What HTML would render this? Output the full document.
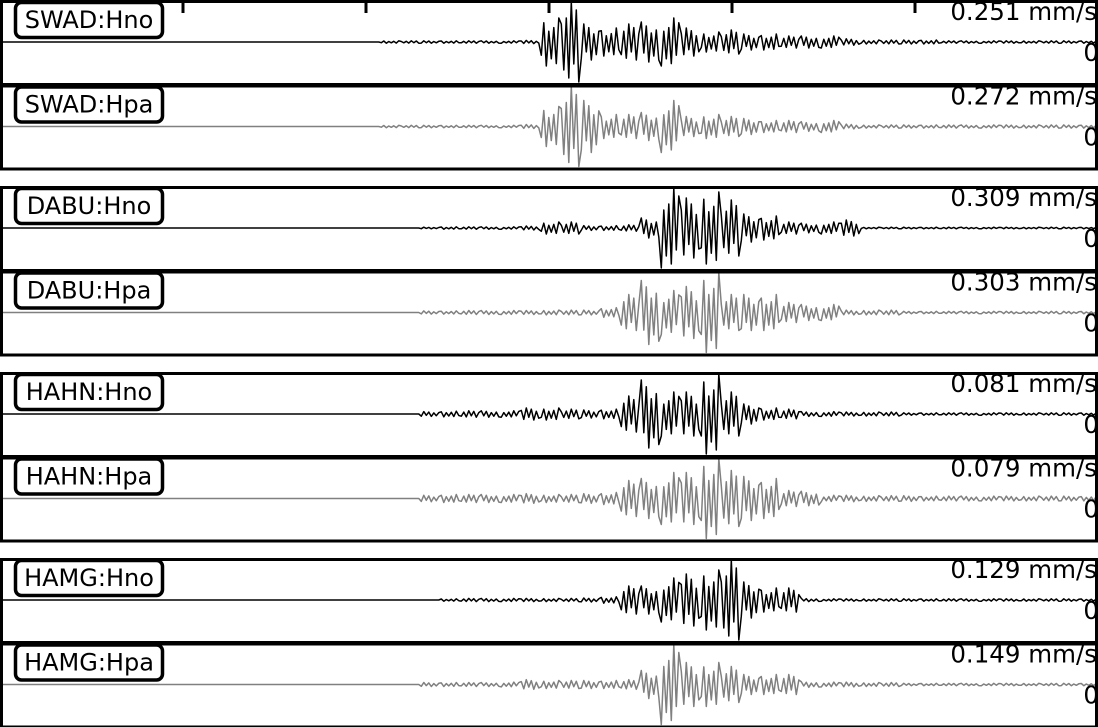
<!DOCTYPE html>
<html><head><meta charset="utf-8"><style>
html,body{margin:0;padding:0;background:#fff}
svg{display:block}
text{font-family:"DejaVu Sans","Liberation Sans",sans-serif}
</style></head><body>
<svg id="chart" width="1098" height="727" viewBox="0 0 1098 727"></svg>
<script>
const stations=["SWAD:Hno","SWAD:Hpa","DABU:Hno","DABU:Hpa","HAHN:Hno","HAHN:Hpa","HAMG:Hno","HAMG:Hpa"];
const peakLabels=["0.251 mm/s","0.272 mm/s","0.309 mm/s","0.303 mm/s","0.081 mm/s","0.079 mm/s","0.129 mm/s","0.149 mm/s"];
const traceColors=["#000","#808080","#000","#808080","#000","#808080","#000","#808080"];
const tickTimes=[1,2,3,4,5];
// envelope amplitude (fraction of peak) per 20px time bin, 55 bins
const env1=[0,0,0,0,0,0,0,0,0,0,0,0,0,0,0,0,0,0,0,0.03,0.03,0.03,0.03,0.03,0.03,0.03,0.04,0.6,1.0,0.45,0.35,0.45,0.5,0.6,0.35,0.25,0.3,0.2,0.2,0.15,0.15,0.15,0.08,0.05,0.05,0.05,0.05,0.03,0.03,0.03,0.03,0.03,0.03,0.03,0.03];
const env2=[0,0,0,0,0,0,0,0,0,0,0,0,0,0,0,0,0,0,0,0.03,0.03,0.03,0.03,0.03,0.03,0.03,0.05,0.5,1.0,0.65,0.3,0.3,0.35,0.65,0.25,0.3,0.25,0.2,0.15,0.15,0.12,0.15,0.06,0.04,0.04,0.04,0.04,0.04,0.04,0.04,0.04,0.04,0.04,0.04,0.04];
const env3=[0,0,0,0,0,0,0,0,0,0,0,0,0,0,0,0,0,0,0,0,0,0.02,0.03,0.03,0.03,0.03,0.05,0.15,0.15,0.06,0.06,0.08,0.25,1.0,0.75,0.9,0.7,0.35,0.3,0.15,0.12,0.15,0.2,0.02,0.02,0.02,0.02,0.02,0.02,0.02,0.02,0.02,0.02,0.02,0.02];
const env4=[0,0,0,0,0,0,0,0,0,0,0,0,0,0,0,0,0,0,0,0,0,0.04,0.04,0.05,0.05,0.05,0.05,0.06,0.06,0.06,0.12,0.45,0.8,0.55,0.65,1.0,0.45,0.45,0.45,0.25,0.2,0.2,0.06,0.06,0.06,0.03,0.03,0.03,0.03,0.03,0.03,0.03,0.03,0.03,0.03];
const env5=[0,0,0,0,0,0,0,0,0,0,0,0,0,0,0,0,0,0,0,0,0,0.06,0.07,0.08,0.08,0.08,0.15,0.15,0.12,0.1,0.12,0.45,0.85,0.55,0.55,1.0,0.55,0.25,0.15,0.12,0.06,0.06,0.05,0.05,0.05,0.03,0.03,0.03,0.03,0.03,0.03,0.03,0.03,0.03,0.03];
const env6=[0,0,0,0,0,0,0,0,0,0,0,0,0,0,0,0,0,0,0,0,0,0.08,0.1,0.1,0.1,0.1,0.12,0.1,0.1,0.12,0.15,0.45,0.5,0.65,0.65,1.0,0.7,0.55,0.5,0.2,0.18,0.08,0.08,0.07,0.07,0.07,0.06,0.06,0.06,0.06,0.06,0.06,0.06,0.06,0.06];
const env7=[0,0,0,0,0,0,0,0,0,0,0,0,0,0,0,0,0,0,0,0,0,0,0.03,0.04,0.04,0.04,0.04,0.04,0.04,0.05,0.08,0.35,0.35,0.55,0.65,0.75,1.0,0.45,0.3,0.3,0.04,0.03,0.03,0.03,0.03,0.03,0.03,0.03,0.03,0.03,0.03,0.03,0.03,0.03,0.03];
const env8=[0,0,0,0,0,0,0,0,0,0,0,0,0,0,0,0,0,0,0,0,0,0.05,0.05,0.05,0.05,0.06,0.12,0.1,0.1,0.1,0.1,0.12,0.35,1.0,0.55,0.55,0.45,0.25,0.25,0.25,0.07,0.06,0.06,0.05,0.05,0.03,0.03,0.03,0.03,0.03,0.03,0.03,0.03,0.03,0.03];
const envelopes=[env1,env2,env3,env4,env5,env6,env7,env8];

const NS="http://www.w3.org/2000/svg";
const svg=document.getElementById('chart');
const W=1098, PH=84.5;
const tops=[0,84.5,186,270.5,372,456.5,558,642.5];
const binW=20;
const xScale=t=>t*183;
const binX=i=>i*binW;
const yScale=(top,a)=>top+42-a*40;
const wiggle=[1,-0.55,0.8,-1,0.45,-0.7,0.6,-0.9];
function mk(tag,attrs){const e=document.createElementNS(NS,tag);for(const k in attrs)e.setAttribute(k,attrs[k]);return e;}

envelopes.forEach((env,p)=>{
  const top=tops[p];
  const g=mk('g',{});
  
  
  svg.appendChild(g);
  let d='M0 '+yScale(top,0);
  const n=8;
  for(let i=0;i<55;i++){
    const a=env[i]===undefined?0.03:env[i];
    const x0=binX(i);
    for(let k=0;k<n;k++){
      const x=x0+(k+0.5)*binW/n;
      const v=a*wiggle[(k+i*3)%8];
      d+=' L'+x.toFixed(1)+' '+yScale(top,v).toFixed(1);
    }
  }
  const path=mk('path',{d:d,fill:'none',stroke:traceColors[p],'stroke-width':1.5,'stroke-linejoin':'round'});
  
  
  g.appendChild(path);
  const fr=mk('rect',{x:1.5,y:top+1.5,width:W-3,height:PH-1.5,fill:'none',stroke:'#000','stroke-width':3});
  
  
  g.appendChild(fr);
  const lb=mk('rect',{x:15.5,y:top+2.5,width:147,height:35,rx:6,fill:'#fff',stroke:'#000','stroke-width':3.5});
  
  
  g.appendChild(lb);
  const lt=mk('text',{x:89,y:top+28,'font-size':24,'text-anchor':'middle',fill:'#000'});
  lt.textContent=stations[p];
  
  
  g.appendChild(lt);
  const at=mk('text',{x:1097,y:top+20,'font-size':24.5,'text-anchor':'end',fill:'#000'});
  at.textContent=peakLabels[p];
  
  
  g.appendChild(at);
  const zt=mk('text',{x:1099,y:top+61,'font-size':24.5,'text-anchor':'end',fill:'#000'});
  zt.textContent='0';
  
  
  g.appendChild(zt);
});
tickTimes.forEach(t=>{
  const l=mk('line',{x1:xScale(t),x2:xScale(t),y1:0,y2:13,stroke:'#000','stroke-width':3});
  
  
  svg.appendChild(l);
});
</script>
</body></html>
